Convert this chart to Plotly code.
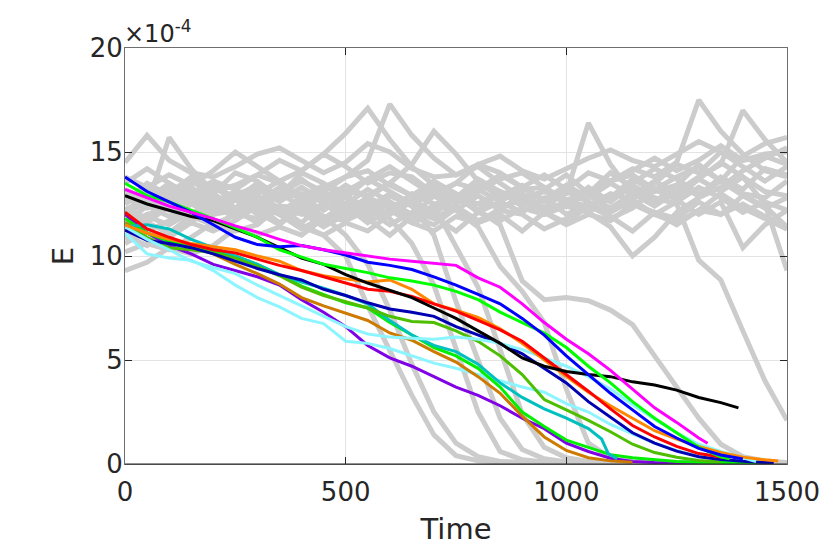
import plotly.graph_objects as go

# time grid shared by the sampled curves (every 50 time units)
T = list(range(0, 1501, 50))

# ---- grey background runs (E in units of 1e-4) ----
gray_band = [
    [14.5, 15.8, 14.6, 14.0, 13.8, 14.3, 14.9, 15.2, 14.6, 14.0, 14.5, 15.4, 15.0, 14.2, 13.8, 13.9, 14.4, 14.8, 14.1, 13.7, 14.2, 14.7, 15.1, 14.6, 14.3, 14.9, 15.5, 15.0, 14.6, 14.8, 14.4],
    [13.0, 12.4, 15.7, 14.2, 13.1, 13.4, 13.9, 13.5, 12.9, 13.3, 13.8, 14.1, 13.4, 12.9, 13.2, 12.6, 13.1, 13.7, 14.0, 13.3, 12.7, 13.0, 13.6, 13.9, 13.2, 13.8, 14.3, 13.6, 13.0, 12.8, 13.6],
    [12.2, 12.8, 12.4, 13.0, 13.6, 13.2, 13.9, 14.6, 14.1, 14.9, 15.9, 17.1, 15.6, 14.3, 13.4, 12.6, 12.9, 12.3, 12.7, 12.2, 12.6, 12.4, 13.0, 12.7, 13.5, 14.4, 14.0, 15.0, 14.3, 13.6, 14.3],
    [11.5, 12.0, 12.3, 11.8, 12.2, 12.8, 12.4, 13.0, 13.6, 13.1, 13.8, 14.6, 17.3, 15.8, 14.7, 13.9, 14.3, 13.5, 12.8, 13.1, 12.6, 12.9, 12.3, 12.5, 12.0, 12.6, 13.3, 12.8, 12.1, 12.6, 12.2],
    [10.2, 10.6, 10.3, 10.9, 11.6, 11.2, 11.5, 12.4, 12.0, 12.5, 12.2, 12.8, 12.3, 11.6, 12.0, 12.9, 12.5, 13.1, 12.7, 12.0, 12.4, 12.1, 12.8, 13.7, 13.1, 13.4, 14.4, 13.6, 12.9, 12.4, 11.4],
    [9.3, 9.7, 10.4, 10.1, 10.5, 11.3, 11.0, 11.4, 11.0, 11.8, 12.4, 11.9, 12.2, 11.6, 11.2, 11.9, 11.6, 12.3, 12.8, 12.1, 11.5, 12.0, 11.7, 12.5, 12.1, 11.5, 12.2, 13.0, 12.3, 11.8, 11.3],
    [13.5, 14.2, 13.5, 12.7, 13.0, 14.0, 13.6, 12.8, 13.0, 12.6, 13.1, 12.9, 13.5, 14.4, 16.0, 14.9, 13.6, 12.8, 13.2, 13.3, 12.5, 12.9, 12.7, 13.5, 14.2, 13.7, 13.0, 13.6, 14.8, 15.4, 15.7],
    [12.8, 12.3, 12.7, 12.5, 13.3, 12.8, 12.0, 12.4, 12.3, 12.9, 12.4, 11.6, 12.2, 13.0, 12.5, 12.7, 13.5, 12.9, 13.4, 12.6, 13.0, 16.4, 14.4, 13.0, 13.2, 12.8, 13.7, 14.5, 13.8, 13.1, 12.9],
    [11.8, 11.2, 11.7, 12.5, 12.0, 12.2, 11.6, 12.3, 12.1, 11.4, 12.0, 12.8, 12.4, 12.6, 13.6, 12.9, 12.1, 11.7, 12.3, 12.0, 12.5, 12.1, 11.4, 10.0, 10.9, 12.1, 12.8, 13.3, 14.1, 14.7, 15.2],
    [12.5, 13.2, 12.8, 13.3, 12.6, 13.1, 13.0, 13.6, 12.8, 13.4, 13.1, 13.7, 14.3, 13.6, 12.9, 13.5, 13.2, 13.9, 13.3, 12.6, 13.2, 12.9, 13.6, 14.2, 13.8, 14.5, 17.5, 16.0, 14.9, 14.1, 13.8],
    [11.2, 11.9, 11.5, 12.1, 11.4, 12.0, 11.8, 12.4, 11.5, 11.0, 11.6, 11.2, 12.0, 12.6, 11.9, 11.2, 12.1, 12.6, 12.1, 12.8, 12.0, 12.5, 12.3, 13.0, 12.4, 13.1, 13.8, 14.4, 17.0, 15.6, 14.5],
    [12.0, 12.6, 12.2, 12.8, 12.1, 12.9, 12.2, 13.0, 13.7, 12.9, 12.1, 12.7, 12.5, 11.8, 12.4, 12.2, 12.9, 12.2, 13.0, 12.3, 13.1, 12.6, 11.8, 12.3, 13.2, 12.7, 12.0, 12.6, 10.4, 11.5, 12.2],
    [13.8, 13.3, 13.9, 13.4, 14.1, 15.0, 14.3, 13.6, 14.1, 14.9, 14.3, 13.5, 14.0, 13.8, 13.0, 13.5, 14.4, 14.0, 13.3, 13.9, 13.2, 14.0, 13.6, 14.1, 14.7, 14.1, 14.6, 15.3, 14.6, 14.9, 15.0],
    [11.0, 10.5, 11.1, 11.9, 11.5, 12.0, 12.5, 12.0, 11.3, 11.9, 11.7, 12.2, 11.5, 12.1, 11.8, 12.4, 11.7, 12.2, 12.0, 11.3, 11.8, 12.6, 12.1, 12.7, 12.0, 11.6, 12.2, 12.0, 12.5, 11.9, 11.3],
    [12.6, 13.4, 13.0, 13.8, 13.3, 12.7, 13.5, 12.9, 14.0, 13.5, 12.8, 13.7, 13.1, 12.5, 13.3, 12.8, 13.7, 13.1, 12.4, 13.2, 13.9, 13.0, 14.0, 13.3, 12.6, 13.4, 12.9, 13.8, 13.2, 14.2, 13.9],
    [10.6, 11.2, 10.9, 11.6, 11.2, 11.7, 12.4, 11.6, 12.2, 11.5, 12.4, 11.8, 11.0, 11.9, 11.5, 12.3, 11.6, 12.0, 11.2, 12.1, 11.6, 12.4, 11.9, 11.2, 12.1, 11.8, 12.6, 12.0, 12.9, 12.3, 12.8],
]

# grey runs that collapse towards zero
gray_drop = [
    [12.5, 13.2, 12.6, 13.1, 12.4, 11.9, 12.6, 12.0, 11.4, 11.0, 10.0, 7.6, 5.5, 3.3, 1.4, 0.4, 0.15, 0.08, 0.06, 0.05, 0.05, 0.04, 0.04, 0.04, 0.03, 0.03, 0.03, 0.03, 0.03, 0.03, 0.03],
    [10.8, 11.6, 11.1, 11.9, 12.5, 11.8, 12.6, 12.0, 12.6, 11.9, 11.0, 9.6, 7.4, 4.8, 2.5, 1.0, 0.35, 0.12, 0.07, 0.05, 0.05, 0.04, 0.04, 0.04, 0.03, 0.03, 0.03, 0.03, 0.03, 0.03, 0.03],
    [12.0, 11.6, 12.4, 13.0, 12.3, 12.9, 13.4, 12.7, 13.3, 12.5, 11.9, 12.7, 11.8, 10.6, 8.6, 5.5, 2.5, 0.6, 0.2, 0.1, 0.07, 0.05, 0.05, 0.04, 0.04, 0.04, 0.03, 0.03, 0.03, 0.03, 0.03],
    [13.2, 12.7, 13.5, 12.9, 12.2, 13.1, 12.6, 13.3, 12.7, 13.4, 12.8, 12.1, 12.9, 12.4, 11.0, 7.8, 5.0, 2.2, 0.7, 0.25, 0.1, 0.07, 0.05, 0.05, 0.04, 0.04, 0.04, 0.03, 0.03, 0.03, 0.03],
    [11.6, 12.4, 11.9, 12.6, 12.0, 12.7, 12.1, 11.5, 12.4, 11.8, 12.5, 11.9, 12.6, 12.0, 12.4, 10.5, 8.5, 5.5, 2.4, 0.8, 0.3, 0.12, 0.07, 0.05, 0.05, 0.04, 0.04, 0.04, 0.03, 0.03, 0.03],
    [12.9, 12.4, 13.3, 12.7, 13.4, 12.8, 12.1, 13.0, 12.4, 13.1, 12.5, 13.2, 12.6, 11.9, 12.9, 12.2, 11.4, 9.5, 8.3, 6.8, 3.6, 1.0, 0.3, 0.12, 0.07, 0.05, 0.05, 0.04, 0.04, 0.04, 0.04],
    [12.3, 11.8, 12.7, 12.0, 12.8, 12.2, 12.9, 12.3, 11.6, 12.5, 11.9, 12.6, 12.0, 12.7, 12.1, 12.8, 12.2, 11.5, 8.8, 7.9, 8.0, 7.85, 7.4, 6.7, 5.2, 3.7, 2.2, 0.95, 0.35, 0.15, 0.07],
    [12.6, 13.5, 12.9, 13.6, 13.0, 12.3, 13.2, 12.6, 13.3, 12.7, 13.4, 12.8, 13.5, 12.9, 13.6, 13.0, 12.2, 13.1, 12.4, 13.2, 12.5, 13.3, 12.6, 13.4, 12.8, 12.5, 9.8, 8.85, 6.4, 4.0, 2.1],
    [12.1, 12.9, 12.3, 11.6, 12.6, 12.0, 12.7, 12.1, 12.8, 12.2, 12.9, 12.3, 13.0, 12.4, 13.1, 12.5, 13.2, 12.6, 13.3, 12.7, 13.4, 12.8, 13.5, 12.9, 13.6, 13.0, 13.7, 13.1, 13.8, 12.5, 9.3],
]

# ---- coloured runs: values on T, then an optional last point ----
purple = [12.0, 11.1, 10.5, 10.1, 9.6, 9.3, 9.0, 8.6, 7.9, 7.3, 6.6, 5.7, 5.1, 4.7, 4.2, 3.7, 3.3, 2.8, 2.2, 1.7, 1.0, 0.6, 0.28, 0.12, 0.07, 0.05, 0.04, 0.04, 0.03, 0.03]
cyan_low = [11.1, 10.1, 9.9, 9.8, 9.3, 8.6, 8.0, 7.55, 7.0, 6.75, 5.9, 5.8, 5.55, 5.2, 4.85, 4.6, 4.3, 4.0, 3.7, 3.45, 2.9, 2.5, 1.9, 1.45, 1.0, 0.65, 0.38, 0.22, 0.1, 0.06]
brown = [11.6, 11.1, 10.8, 10.45, 10.1, 9.6, 9.15, 8.65, 8.0, 7.6, 7.25, 6.9, 6.3, 5.95, 5.4, 4.9, 4.2, 3.4, 2.3, 1.3, 0.65, 0.3, 0.15, 0.08]
green_low = [11.8, 11.1, 10.7, 10.4, 10.2, 10.0, 9.6, 9.1, 8.55, 8.15, 7.75, 7.5, 6.8, 6.2, 5.6, 5.2, 4.6, 3.7, 2.5, 1.8, 1.15, 0.8, 0.45, 0.3, 0.2, 0.12, 0.08, 0.06, 0.05, 0.05]
teal = [11.4, 11.5, 11.3, 10.8, 10.4, 10.0, 9.6, 9.1, 8.75, 8.45, 8.1, 7.7, 6.9, 6.2, 5.7, 5.4, 4.8, 3.9, 3.2, 2.65, 2.2, 1.7]
teal_tail_x = [1080, 1095, 1115]
teal_tail_y = [1.2, 0.5, 0.25]
olive_green = [11.55, 10.9, 10.4, 10.3, 10.15, 9.9, 9.5, 9.05, 8.5, 8.1, 7.8, 7.5, 7.1, 6.85, 6.8, 6.4, 5.9, 5.2, 4.3, 3.1, 2.6, 2.1, 1.55, 0.95, 0.55, 0.32, 0.17, 0.1]
navy = [11.25, 10.75, 10.6, 10.4, 10.1, 9.75, 9.4, 9.1, 8.85, 8.4, 8.1, 7.75, 7.45, 7.3, 7.1, 6.6, 6.2, 5.8, 5.3, 4.6, 3.9, 3.0, 2.25, 1.5, 1.0, 0.62, 0.35, 0.22, 0.13, 0.07]
navy_end = (1470, 0.05)
cyan_up = [11.4, 10.8, 10.3, 9.75, 9.45, 9.15, 8.6, 8.1, 7.6, 7.1, 6.6, 6.25, 6.1, 6.05, 6.0, 6.1, 6.0, 5.8, 5.5, 5.1, 4.7, 4.2, 3.6, 2.85, 2.15, 1.5, 0.95, 0.6, 0.3]
cyan_up_end = (1430, 0.12)
orange = [11.5, 11.1, 10.8, 10.6, 10.45, 10.3, 10.0, 9.75, 9.3, 9.05, 8.9, 8.75, 8.85, 8.4, 7.7, 7.4, 7.05, 6.5, 5.8, 5.0, 4.2, 3.45, 2.8, 2.2, 1.6, 1.2, 0.85, 0.55, 0.33, 0.2]
orange_end = (1480, 0.15)
red = [12.1, 11.3, 10.9, 10.55, 10.3, 10.15, 9.85, 9.55, 9.3, 9.0, 8.7, 8.4, 8.3, 8.05, 7.7, 7.35, 6.9, 6.45, 5.9, 5.1, 4.3, 3.5, 2.65, 1.85, 1.3, 0.85, 0.5, 0.32]
red_end = (1370, 0.28)
black = [12.9, 12.5, 12.2, 11.9, 11.7, 11.3, 10.9, 10.4, 9.9, 9.6, 9.1, 8.7, 8.35, 8.0, 7.5, 7.0, 6.4, 5.8, 5.1, 4.7, 4.45, 4.3, 4.2, 3.95, 3.8, 3.55, 3.2, 2.95]
black_end = (1390, 2.7)
green_up = [13.5, 12.9, 12.6, 12.2, 11.8, 11.35, 10.9, 10.3, 9.95, 9.6, 9.4, 9.2, 8.95, 8.8, 8.6, 8.3, 7.9, 7.3, 6.8, 6.3, 5.6, 4.7, 3.9, 3.0, 2.2, 1.5, 0.8, 0.35]
green_up_end = (1370, 0.25)
blue = [13.8, 13.1, 12.6, 12.1, 11.5, 10.9, 10.55, 10.45, 10.5, 10.3, 10.05, 9.7, 9.55, 9.35, 9.0, 8.6, 8.15, 7.7, 7.0, 6.2, 5.2, 4.3, 3.4, 2.6, 1.8, 1.25, 0.75, 0.43, 0.24]
magenta = [13.2, 12.8, 12.4, 12.1, 11.8, 11.45, 11.15, 10.8, 10.5, 10.3, 10.15, 10.0, 9.85, 9.75, 9.65, 9.55, 8.95, 8.5, 7.7, 6.8, 6.0, 5.3, 4.5, 3.6, 2.7, 2.0, 1.25]
magenta_end = (1320, 1.0)

fig = go.Figure()

for ys in gray_band + gray_drop:
    fig.add_trace(go.Scatter(x=T, y=ys, mode="lines",
                             line=dict(color="#cccccc", width=5), hoverinfo="skip"))


def add_run(vals, color, end=None, tail=None, width=3):
    xs = T[:len(vals)]
    ys = list(vals)
    if end is not None:
        xs = xs + [end[0]]
        ys = ys + [end[1]]
    if tail is not None:
        xs = xs + tail[0]
        ys = ys + tail[1]
    fig.add_trace(go.Scatter(x=xs, y=ys, mode="lines",
                             line=dict(color=color, width=width), hoverinfo="skip"))


add_run(purple, "#8000e6")
add_run(cyan_low, "#8cf5ff")
add_run(brown, "#cc7a00")
add_run(green_low, "#00f000")
add_run(teal, "#00bfbf", tail=(teal_tail_x, teal_tail_y))
add_run(olive_green, "#4dbf00")
add_run(navy, "#0000b3", end=navy_end)
add_run(cyan_up, "#8cf5ff", end=cyan_up_end)
add_run(orange, "#ff8800", end=orange_end)
add_run(red, "#ff0000", end=red_end)
add_run(black, "#000000", end=black_end)
add_run(green_up, "#00ff00", end=green_up_end)
add_run(blue, "#0000ff")
add_run(magenta, "#ff00ff", end=magenta_end)

axis_common = dict(
    showline=True, linecolor="#6e6e6e", linewidth=1, mirror="ticks",
    ticks="inside", ticklen=7, tickcolor="#262626",
    showgrid=True, gridcolor="#e3e3e3", gridwidth=1, zeroline=False,
    tickfont=dict(size=26, color="#262626"), automargin=False,
)

# the page body adds an 8px offset, so the figure is drawn 8px smaller
fig.update_layout(
    width=822, height=546,
    margin=dict(l=117, r=43, t=40, b=90),
    plot_bgcolor="white", paper_bgcolor="white",
    showlegend=False,
    font=dict(family="DejaVu Sans", color="#262626"),
    xaxis=dict(range=[0, 1500], tickvals=[0, 500, 1000, 1500], ticklabelstandoff=5,
               title=dict(text="Time", font=dict(size=29), standoff=12),
               **axis_common),
    yaxis=dict(range=[0, 20], tickvals=[0, 5, 10, 15, 20], ticklabelstandoff=-4,
               title=dict(text="E", font=dict(size=29), standoff=7),
               **axis_common),
)

# dark bottom axis line like the reference
fig.add_shape(type="line", xref="x domain", yref="y domain", x0=0, x1=1, y0=0, y1=0,
              line=dict(color="#262626", width=1.2))

fig.add_annotation(text="×10<sup>-4</sup>", xref="paper", yref="paper", x=0, y=1,
                   xanchor="left", yanchor="bottom", xshift=-3, yshift=-2, showarrow=False,
                   font=dict(size=24, color="#262626"))

fig.write_html("out.html")
